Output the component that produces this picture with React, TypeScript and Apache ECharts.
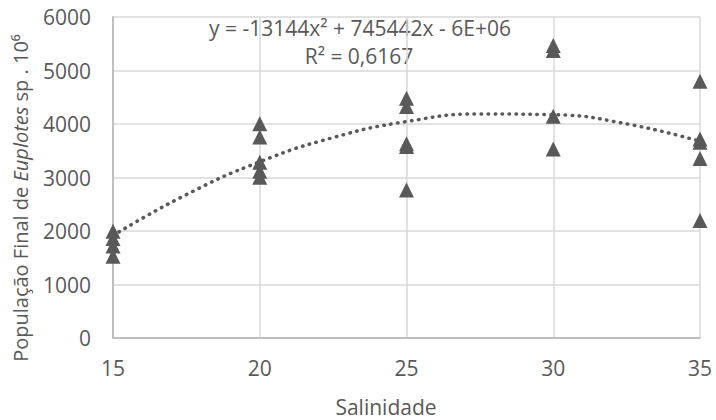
import React, { useEffect, useRef } from "react";
import * as echarts from "echarts";

const salinity = [15, 20, 25, 30, 35];
const popS15 = [1995, 1860, 1720, 1530];
const popS20 = [4005, 3757, 3286, 3118, 3006];
const popS25 = [4482, 4329, 3630, 3580, 2766];
const popS30 = [5467, 5374, 4146, 3533];
const popS35 = [4800, 3720, 3660, 3355, 2196];
const groups = [popS15, popS20, popS25, popS30, popS35];

const trendX = [15, 17.5, 20, 22.5, 25, 27.5, 30, 32.5, 35];
const trendY = [1916, 2680, 3293, 3747, 4045, 4187, 4173, 4002, 3675];

const xTicks = [15, 20, 25, 30, 35];
const yTicks = [0, 1000, 2000, 3000, 4000, 5000, 6000];

const equationText = "y = -13144x² + 745442x - 6E+06";
const r2Text = "R² = 0,6167";

const FONT = "'Open Sans', 'Noto Sans', sans-serif";
const GRAY = "#595959";
const FS = 21;

export default function App() {
  const ref = useRef<HTMLDivElement>(null);
  useEffect(() => {
    if (!ref.current) return;
    const chart = echarts.init(ref.current, undefined, { renderer: "svg" });
    const points: number[][] = [];
    salinity.forEach((s, i) => groups[i].forEach((v) => points.push([s, v])));
    const trend = trendX.map((x, i) => [x, trendY[i]]);
    chart.setOption({
      animation: false,
      backgroundColor: "#ffffff",
      textStyle: { fontFamily: FONT },
      grid: { left: 113, right: 16, top: 17, bottom: 82, containLabel: false },
      xAxis: {
        type: "value",
        min: xTicks[0],
        max: xTicks[xTicks.length - 1],
        interval: 5,
        axisLine: { show: true, lineStyle: { color: "#bfbfbf", width: 2 } },
        axisTick: { show: false },
        axisLabel: {
          color: GRAY,
          fontSize: FS,
          fontFamily: FONT,
          margin: 19,
          formatter: (v: number) => String(v),
        },
        splitLine: { show: true, lineStyle: { color: "#d9d9d9", width: 1.5 } },
      },
      yAxis: {
        type: "value",
        min: yTicks[0],
        max: yTicks[yTicks.length - 1],
        interval: 1000,
        axisLine: { show: true, lineStyle: { color: "#bfbfbf", width: 2 } },
        axisTick: { show: false },
        axisLabel: {
          color: GRAY,
          fontSize: FS,
          fontFamily: FONT,
          margin: 22,
          formatter: (v: number) => String(v),
        },
        splitLine: { show: true, lineStyle: { color: "#d9d9d9", width: 1.5 } },
      },
      series: [
        {
          type: "line",
          data: trend,
          smooth: true,
          showSymbol: false,
          symbol: "none",
          z: 2,
          lineStyle: { color: GRAY, width: 3.5, type: [0.5, 6.5], cap: "round" },
        },
        {
          type: "scatter",
          data: points,
          symbol: "triangle",
          symbolSize: [15, 15],
          z: 3,
          itemStyle: { color: GRAY, opacity: 1 },
        },
      ],
      graphic: [
        {
          type: "text",
          x: 360,
          y: 28,
          style: {
            text: equationText,
            fill: GRAY,
            font: `${FS}px ${FONT}`,
            align: "center",
            verticalAlign: "middle",
          },
        },
        {
          type: "text",
          x: 359,
          y: 56,
          style: {
            text: r2Text,
            fill: GRAY,
            font: `${FS}px ${FONT}`,
            align: "center",
            verticalAlign: "middle",
          },
        },
        {
          type: "text",
          x: 386,
          y: 407,
          style: {
            text: "Salinidade",
            fill: GRAY,
            font: `${FS}px ${FONT}`,
            align: "center",
            verticalAlign: "middle",
          },
        },
        {
          type: "text",
          x: 20,
          y: 198,
          rotation: Math.PI / 2,
          style: {
            text: "{n|População Final de }{i|Euplotes}{n| sp . 10⁶}",
            align: "center",
            verticalAlign: "middle",
            rich: {
              n: { fill: GRAY, fontSize: FS - 1, fontFamily: FONT },
              i: { fill: GRAY, fontSize: FS - 1, fontFamily: FONT, fontStyle: "italic" },
            },
          },
        },
      ],
    });
    return () => chart.dispose();
  }, []);
  return (
    <div
      ref={ref}
      style={{ width: 716, height: 420, position: "absolute", left: 0, top: 0 }}
    />
  );
}
